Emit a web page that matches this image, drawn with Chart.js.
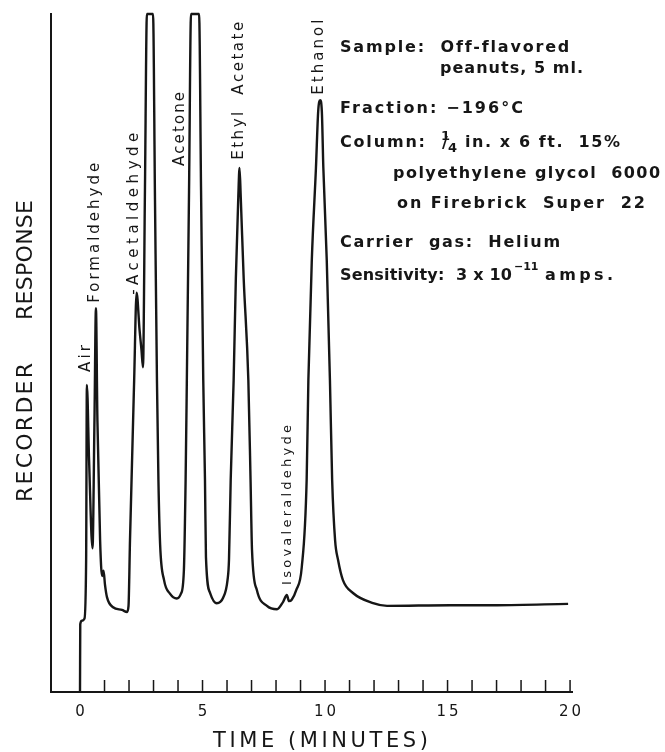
<!DOCTYPE html>
<html>
<head>
<meta charset="utf-8">
<script src="https://cdn.jsdelivr.net/npm/chart.js@4/dist/chart.umd.min.js"></script>
<style>
html, body { margin: 0; padding: 0; background: #fff; }
#wrap { width: 665px; height: 752px; position: relative; }
</style>
</head>
<body>
<div id="wrap"><canvas id="chromatogram"></canvas></div>
<script>
// retention time, minutes
const times = [0, 0.01, 0.08, 0.18, 0.25, 0.28, 0.37, 0.51, 0.59, 0.65,
    0.71, 0.82, 0.90, 0.96, 1.02, 1.10, 1.35, 1.71, 1.92, 1.98,
    2.04, 2.21, 2.31, 2.43, 2.51, 2.57, 2.65, 2.73, 2.98, 3.06,
    3.14, 3.20, 3.27, 3.43, 3.67, 3.95, 4.12, 4.24, 4.31, 4.36,
    4.45, 4.53, 4.86, 4.94, 5.03, 5.10, 5.14, 5.31, 5.58, 5.84,
    6.02, 6.08, 6.15, 6.27, 6.36, 6.46, 6.51, 6.56, 6.68, 6.87,
    6.96, 7.02, 7.22, 7.63, 8.04, 8.29, 8.44, 8.53, 8.64, 8.82,
    9.05, 9.25, 9.32, 9.46, 9.63, 9.72, 9.80, 9.87, 9.93, 10.07,
    10.20, 10.29, 10.41, 10.53, 10.73, 11.14, 11.96, 12.53, 15.10, 17.02,
    19.92];

// recorder response (relative, 100 = pen at top of chart)
const response = [0, 10.0, 10.5, 10.8, 19.5, 45.3, 34.2, 21.2, 40.1, 56.6,
    40.1, 22.4, 17.1, 17.9, 15.8, 14.0, 12.5, 12.1, 11.8, 12.7,
    22.4, 46.0, 58.9, 53.4, 50.4, 47.9, 74.0, 100, 100, 72.6,
    46.0, 31.3, 21.7, 16.5, 14.5, 13.8, 14.5, 18.0, 31.3, 46.0,
    74.0, 100, 100, 74.0, 46.0, 31.3, 19.9, 14.6, 13.1, 13.9,
    16.5, 19.5, 31.3, 46.0, 61.0, 73.0, 77.3, 73.0, 61.0, 46.0,
    31.3, 20.9, 15.0, 12.7, 12.2, 13.3, 14.3, 13.4, 13.6, 15.0,
    18.4, 31.3, 46.0, 63.7, 77.4, 85.6, 87.3, 85.6, 77.4, 63.7,
    46.0, 31.3, 22.4, 19.5, 16.5, 14.6, 13.1, 12.7, 12.8, 12.8,
    13.0];

const xTickLabels = [0, 5, 10, 15, 20];
const minuteTicks = [1, 2, 3, 4, 5, 6, 7, 8, 9, 10, 11, 12, 13, 14, 15, 16, 17, 18, 19, 20];

// peak names and where their labels sit (time, response)
const peakNames = ['Air', 'Formaldehyde', '-Acetaldehyde', 'Acetone', 'Ethyl  Acetate', 'Ethanol', 'Isovaleraldehyde'];
const peakLabelTimes = [0.41, 0.76, 2.37, 4.24, 6.67, 9.92, 8.61];
const peakLabelLevels = [47.2, 57.4, 58.6, 77.6, 78.5, 88.1, 15.8];
const peakLabelLengths = [27, 140, 162, 74, 138, 75, 160];

const ink = '#161616';

// draws text stretched to a given width with letter spacing
function spacedText(ctx, text, x, y, width) {
    ctx.letterSpacing = '0px';
    const w = ctx.measureText(text).width;
    const gap = (width - w) / Math.max(1, text.length - 1);
    ctx.letterSpacing = gap.toFixed(2) + 'px';
    ctx.fillText(text, x, y);
    ctx.letterSpacing = '0px';
}

const recorderAxes = {
    id: 'recorderAxes',
    beforeDatasetsDraw(chart) {
        const { ctx, chartArea: a, scales: { x } } = chart;
        ctx.save();
        ctx.strokeStyle = ink;
        ctx.lineWidth = 2;
        ctx.beginPath();
        ctx.moveTo(a.left, a.top + 1);
        ctx.lineTo(a.left, a.bottom);
        ctx.lineTo(a.right, a.bottom);
        ctx.stroke();

        ctx.lineWidth = 1.5;
        ctx.beginPath();
        minuteTicks.forEach(m => {
            const px = x.getPixelForValue(m);
            ctx.moveTo(px, a.bottom);
            ctx.lineTo(px, a.bottom - 12);
        });
        ctx.stroke();
        ctx.restore();
    },
    afterDraw(chart) {
        const { ctx, chartArea: a, scales: { x, y } } = chart;
        ctx.save();
        ctx.fillStyle = ink;

        // tick labels
        ctx.font = '15px "DejaVu Sans"';
        ctx.textAlign = 'center';
        ctx.textBaseline = 'alphabetic';
        xTickLabels.forEach(v => {
            const two = String(v).length > 1;
            ctx.letterSpacing = two ? '3px' : '0px';
            ctx.fillText(String(v), x.getPixelForValue(v) + (two ? 1.5 : 0), a.bottom + 24);
        });
        ctx.letterSpacing = '0px';

        // axis titles
        ctx.textAlign = 'left';
        ctx.font = '21px "DejaVu Sans"';
        spacedText(ctx, 'TIME (MINUTES)', 213, 747, 215);

        ctx.font = '22px "DejaVu Sans"';
        [['RECORDER', 502, 139], ['RESPONSE', 320, 120]].forEach(([word, start, len]) => {
            ctx.save();
            ctx.translate(32, start);
            ctx.rotate(-Math.PI / 2);
            spacedText(ctx, word, 0, 0, len);
            ctx.restore();
        });

        // peak labels
        peakNames.forEach((name, i) => {
            const px = x.getPixelForValue(peakLabelTimes[i]);
            const py = y.getPixelForValue(peakLabelLevels[i]);
            ctx.save();
            ctx.translate(px, py);
            ctx.rotate(-Math.PI / 2);
            ctx.font = (name === 'Isovaleraldehyde' ? '13px' : '15px') + ' "DejaVu Sans"';
            spacedText(ctx, name, 0, 0, peakLabelLengths[i]);
            ctx.restore();
        });

        // run conditions
        ctx.font = 'bold 16px "DejaVu Sans"';
        spacedText(ctx, 'Sample:  Off-flavored', 340, 52, 228);
        spacedText(ctx, 'peanuts, 5 ml.', 440, 73, 143);
        spacedText(ctx, 'Fraction: \u2212196\u00b0C', 340, 113, 183);
        spacedText(ctx, 'Column:', 340, 147, 85);
        ctx.font = 'bold 13px "DejaVu Sans"';
        ctx.fillText('1', 441, 140);
        ctx.fillText('4', 448, 152);
        ctx.font = 'bold 16px "DejaVu Sans"';
        ctx.fillText('/', 442, 148);
        spacedText(ctx, 'in. x 6 ft.  15%', 465, 147, 155);
        spacedText(ctx, 'polyethylene glycol  6000', 393, 178, 267);
        spacedText(ctx, 'on Firebrick  Super  22', 397, 208, 248);
        spacedText(ctx, 'Carrier  gas:  Helium', 340, 247, 220);
        spacedText(ctx, 'Sensitivity:  3 x 10', 340, 280, 172);
        ctx.font = 'bold 11px "DejaVu Sans"';
        ctx.fillText('\u221211', 514, 270);
        ctx.font = 'bold 16px "DejaVu Sans"';
        spacedText(ctx, 'amps.', 545, 280, 68);
        ctx.restore();
    }
};

const points = times.map((t, i) => ({ x: t, y: response[i] }));

new Chart(document.getElementById('chromatogram'), {
    type: 'line',
    data: {
        datasets: [{
            data: points,
            borderColor: ink,
            borderWidth: 2.4,
            borderJoinStyle: 'round',
            pointRadius: 0,
            fill: false,
            cubicInterpolationMode: 'monotone',
            clip: false
        }]
    },
    options: {
        responsive: true,
        maintainAspectRatio: false,
        animation: false,
        layout: { padding: { left: 51, right: 92, top: 12, bottom: 60 } },
        plugins: {
            legend: { display: false },
            tooltip: { enabled: false }
        },
        scales: {
            x: { type: 'linear', min: -1.184, max: 20.12, display: false },
            y: { min: 0, max: 100.3, display: false }
        }
    },
    plugins: [recorderAxes]
});
</script>
</body>
</html>
